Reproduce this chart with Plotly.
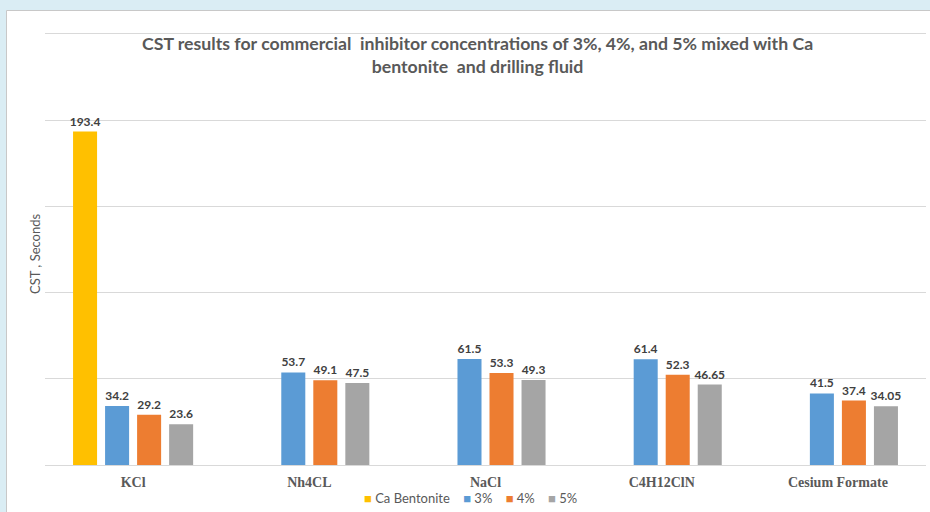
import plotly.graph_objects as go

# Inhibitor categories and CST readings (seconds)
categories = ["KCl", "Nh4CL", "NaCl", "C4H12ClN", "Cesium Formate"]
ca_bentonite = [193.4, None, None, None, None]
conc_3 = [34.2, 53.7, 61.5, 61.4, 41.5]
conc_4 = [29.2, 49.1, 53.3, 52.3, 37.4]
conc_5 = [23.6, 47.5, 49.3, 46.65, 34.05]

series = [
    ("Ca Bentonite", ca_bentonite, "#FFC000"),
    ("3%", conc_3, "#5B9BD5"),
    ("4%", conc_4, "#ED7D31"),
    ("5%", conc_5, "#A5A5A5"),
]

W, H = 930, 512
L, R, T, B = 45, 4, 31, 47
pw, ph = W - L - R, H - T - B
Y_MAX = 251.7


def px_x(p):
    return (p - L) / pw


def px_y(p):
    return (H - B - p) / ph


fig = go.Figure()
for name, vals, color in series:
    fig.add_trace(go.Bar(
        x=categories, y=vals, name=name,
        marker=dict(color=color, line=dict(width=0)),
        texttemplate="%{y}", textposition="outside", constraintext="none",
        textfont=dict(family="Lato", size=12, color="#404040", weight="bold"),
        cliponaxis=False,
    ))

# Compact legend row built from the series names and colours
legend_text = "&nbsp;&nbsp;&nbsp;&nbsp;".join(
    f"<span style='color:{c}'>■</span>&nbsp;{n}" for n, _, c in series
)

title_text = ("CST results for commercial  inhibitor concentrations of 3%, 4%, and 5% mixed with Ca"
              "<br>bentonite  and drilling fluid")

fig.update_layout(
    width=W, height=H,
    margin=dict(l=L, r=R, t=T, b=B, autoexpand=False),
    paper_bgcolor="#DAEDF4",
    plot_bgcolor="rgba(0,0,0,0)",
    barmode="group", bargap=0.273, bargroupgap=0.25,
    showlegend=False,
    font=dict(family="Lato", color="#595959"),
    xaxis=dict(
        showgrid=False, showline=True, linecolor="#D9D9D9", linewidth=1,
        ticks="", ticklabelstandoff=4,
        tickfont=dict(family="Liberation Serif", size=14, color="#595959", weight="bold"),
    ),
    yaxis=dict(
        range=[0, Y_MAX], dtick=50, showgrid=True, gridcolor="#D9D9D9", gridwidth=1,
        showticklabels=False, zeroline=False, showline=False,
    ),
    shapes=[
        dict(type="rect", xref="paper", yref="paper", layer="below",
             x0=px_x(6.5), x1=px_x(W + 5), y0=px_y(H + 5), y1=px_y(10.5),
             fillcolor="white", line=dict(color="#C8C8C8", width=1)),
    ],
    annotations=[
        dict(text=title_text, xref="paper", yref="paper",
             x=px_x(477), y=px_y(55), xanchor="center", yanchor="middle",
             showarrow=False, align="center",
             font=dict(family="Lato", size=17.7, color="#595959", weight="bold")),
        dict(text="CST , Seconds", xref="paper", yref="paper",
             x=px_x(35), y=px_y(254), xanchor="center", yanchor="middle",
             textangle=-90, showarrow=False,
             font=dict(family="Lato", size=13, color="#595959")),
        dict(text=legend_text, xref="paper", yref="paper",
             x=px_x(470), y=px_y(498), xanchor="center", yanchor="middle",
             showarrow=False,
             font=dict(family="Lato", size=13, color="#595959")),
    ],
)

fig.write_html("out.html")
